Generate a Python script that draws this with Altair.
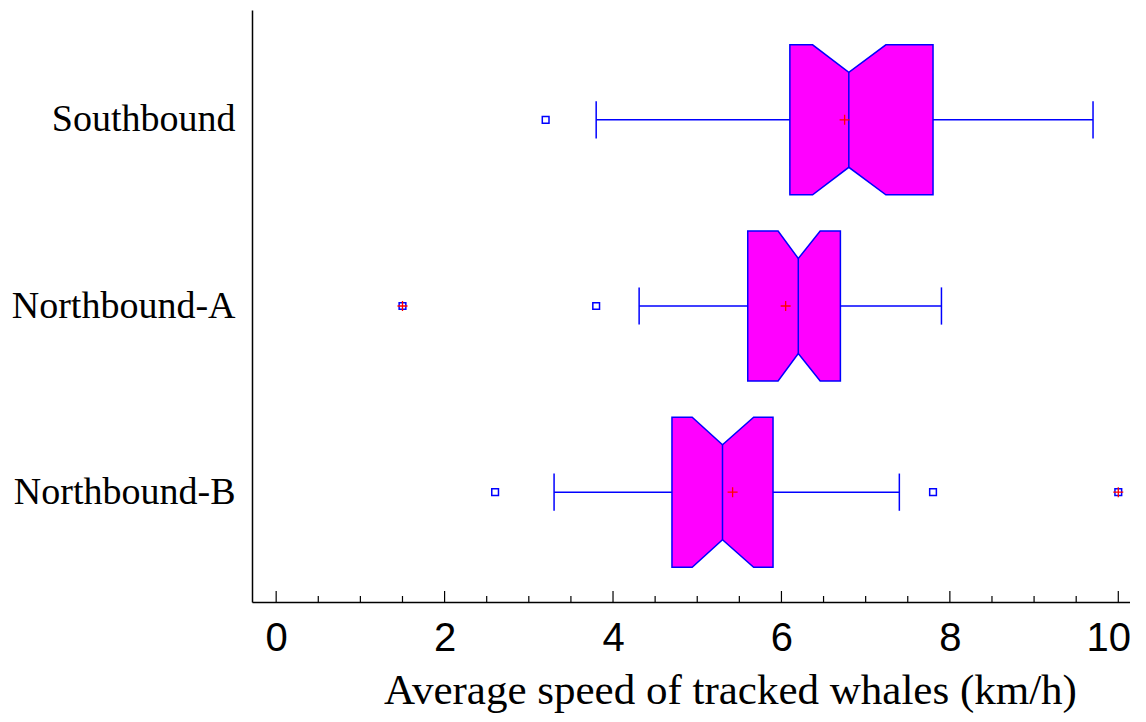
import altair as alt
import pandas as pd

# ---- data ----
groups = ["Northbound-B", "Northbound-A", "Southbound"]
q1 = [4.70, 5.60, 6.10]
median = [5.30, 6.20, 6.80]
q3 = [5.90, 6.70, 7.80]
notch_lo = [4.94, 5.96, 6.37]
notch_hi = [5.67, 6.46, 7.24]
whisker_lo = [3.30, 4.31, 3.80]
whisker_hi = [7.40, 7.90, 9.70]
means = [5.42, 6.05, 6.75]

out_group = ["Northbound-B", "Northbound-B", "Northbound-B", "Northbound-A", "Northbound-A", "Southbound"]
out_value = [2.60, 7.80, 10.00, 1.50, 3.80, 3.20]
out_far = [False, False, True, True, False, False]

major_ticks = [0, 2, 4, 6, 8, 10]
minor_ticks = [0.5, 1, 1.5, 2.5, 3, 3.5, 4.5, 5, 5.5, 6.5, 7, 7.5, 8.5, 9, 9.5]

# ---- layout / style constants ----
HALF = 0.403      # half box height (category units)
NOTCH = 0.148     # notch depth
CAP = 0.10        # half whisker-cap length
BOX_FILL = "#FF00FF"
LINE = "#0000FF"

# ---- tables built from the arrays ----
area_rows, stat_rows = [], []
for i, g in enumerate(groups):
    xs = [q1[i], notch_lo[i], median[i], notch_hi[i], q3[i]]
    insets = [0, 0, NOTCH, 0, 0]
    for xv, d in zip(xs, insets):
        area_rows.append({"group": g, "x": xv, "top": i + HALF - d, "bot": i - HALF + d})
    stat_rows.append({
        "group": g, "pos": i, "q1": q1[i], "q3": q3[i], "median": median[i],
        "wlo": whisker_lo[i], "whi": whisker_hi[i], "mean": means[i],
        "capt": i + CAP, "capb": i - CAP,
        "medt": i + HALF - NOTCH, "medb": i - HALF + NOTCH,
    })
area_df = pd.DataFrame(area_rows)
stat_df = pd.DataFrame(stat_rows)
out_df = pd.DataFrame({"group": out_group, "value": out_value, "far": out_far})
out_df["pos"] = [groups.index(g) for g in out_df["group"]]
major_df = pd.DataFrame({"t": major_ticks})
minor_df = pd.DataFrame({"t": minor_ticks})

PLOT_W = 878
PLOT_H = 592
xscale = alt.Scale(domain=[-0.287, 10.139], nice=False, zero=False)
yscale = alt.Scale(domain=[-0.59, 2.59], nice=False, zero=False)

label_expr = "[" + ",".join("'" + g + "'" for g in groups) + "][datum.value]"

xaxis = alt.Axis(
    values=major_ticks, ticks=False, grid=False, domainColor="black", domainWidth=1.5,
    labelFont="Liberation Sans", labelFontSize=40, labelColor="black", labelPadding=16,
    labelFlush=False, labelOverlap=False,
    labelOffset={"condition": {"test": "datum.value == 10", "value": -10}, "value": 0},
    title="Average speed of tracked whales (km/h)", titleFont="Liberation Serif",
    titleFontSize=43, titleFontWeight="normal", titleColor="black",
    titleX=478, titleY=101, titleAlign="center", titleBaseline="alphabetic",
)
yaxis = alt.Axis(
    values=[0, 1, 2], labelExpr=label_expr, ticks=False, grid=False,
    domainColor="black", domainWidth=1.5, labelLimit=0,
    labelFont="Liberation Serif", labelFontSize=38, labelColor="black", labelPadding=17,
    title=None,
)


def X(field):
    return alt.X(field, type="quantitative", scale=xscale, axis=xaxis)


def Y(field):
    return alt.Y(field, type="quantitative", scale=yscale, axis=yaxis)


boxes = alt.Chart(area_df).mark_area(
    color=BOX_FILL, fill=BOX_FILL, stroke=LINE, strokeWidth=1.5, opacity=1,
    fillOpacity=1, interpolate="linear", orient="vertical"
).encode(x=X("x"), y=Y("top"), y2="bot", detail="group:N")

base = alt.Chart(stat_df)
med_rule = base.mark_rule(color=LINE, strokeWidth=1.5).encode(x=X("median"), y=Y("medb"), y2="medt")
wl = base.mark_rule(color=LINE, strokeWidth=1.5).encode(x=X("wlo"), x2="q1", y=Y("pos"))
wh = base.mark_rule(color=LINE, strokeWidth=1.5).encode(x=X("q3"), x2="whi", y=Y("pos"))
cap_l = base.mark_rule(color=LINE, strokeWidth=1.5).encode(x=X("wlo"), y=Y("capb"), y2="capt")
cap_h = base.mark_rule(color=LINE, strokeWidth=1.5).encode(x=X("whi"), y=Y("capb"), y2="capt")

plus = "M-1,0L1,0M0,-1L0,1"
mean_pts = base.mark_point(shape=plus, size=100, color="red", strokeWidth=1.3, filled=False, opacity=1).encode(
    x=X("mean"), y=Y("pos")
)

outliers = alt.Chart(out_df).mark_point(
    shape="square", size=45, color=LINE, strokeWidth=1.5, filled=False, opacity=1
).encode(x=X("value"), y=Y("pos"))
far_pts = alt.Chart(out_df).transform_filter("datum.far").mark_point(
    shape=plus, size=100, color="red", strokeWidth=1.3, filled=False, opacity=1
).encode(x=X("value"), y=Y("pos"))

# inward ticks on the bottom axis: majors taller than minors
ticks_major = alt.Chart(major_df).mark_rule(color="black", strokeWidth=1.2).encode(
    x=X("t"), y=alt.value(PLOT_H), y2=alt.value(PLOT_H - 11)
)
ticks_minor = alt.Chart(minor_df).mark_rule(color="black", strokeWidth=1.2).encode(
    x=X("t"), y=alt.value(PLOT_H), y2=alt.value(PLOT_H - 6)
)

chart = alt.layer(
    wl, wh, cap_l, cap_h, boxes, med_rule, outliers, mean_pts, far_pts, ticks_major, ticks_minor
).properties(
    width=PLOT_W, height=PLOT_H, background="white",
    autosize=alt.AutoSizeParams(type="none"),
    padding={"left": 244, "top": 2, "right": 0, "bottom": 112},
).configure_view(stroke=None)

chart.save("out.html", embed_options={"renderer": "svg", "actions": False})
